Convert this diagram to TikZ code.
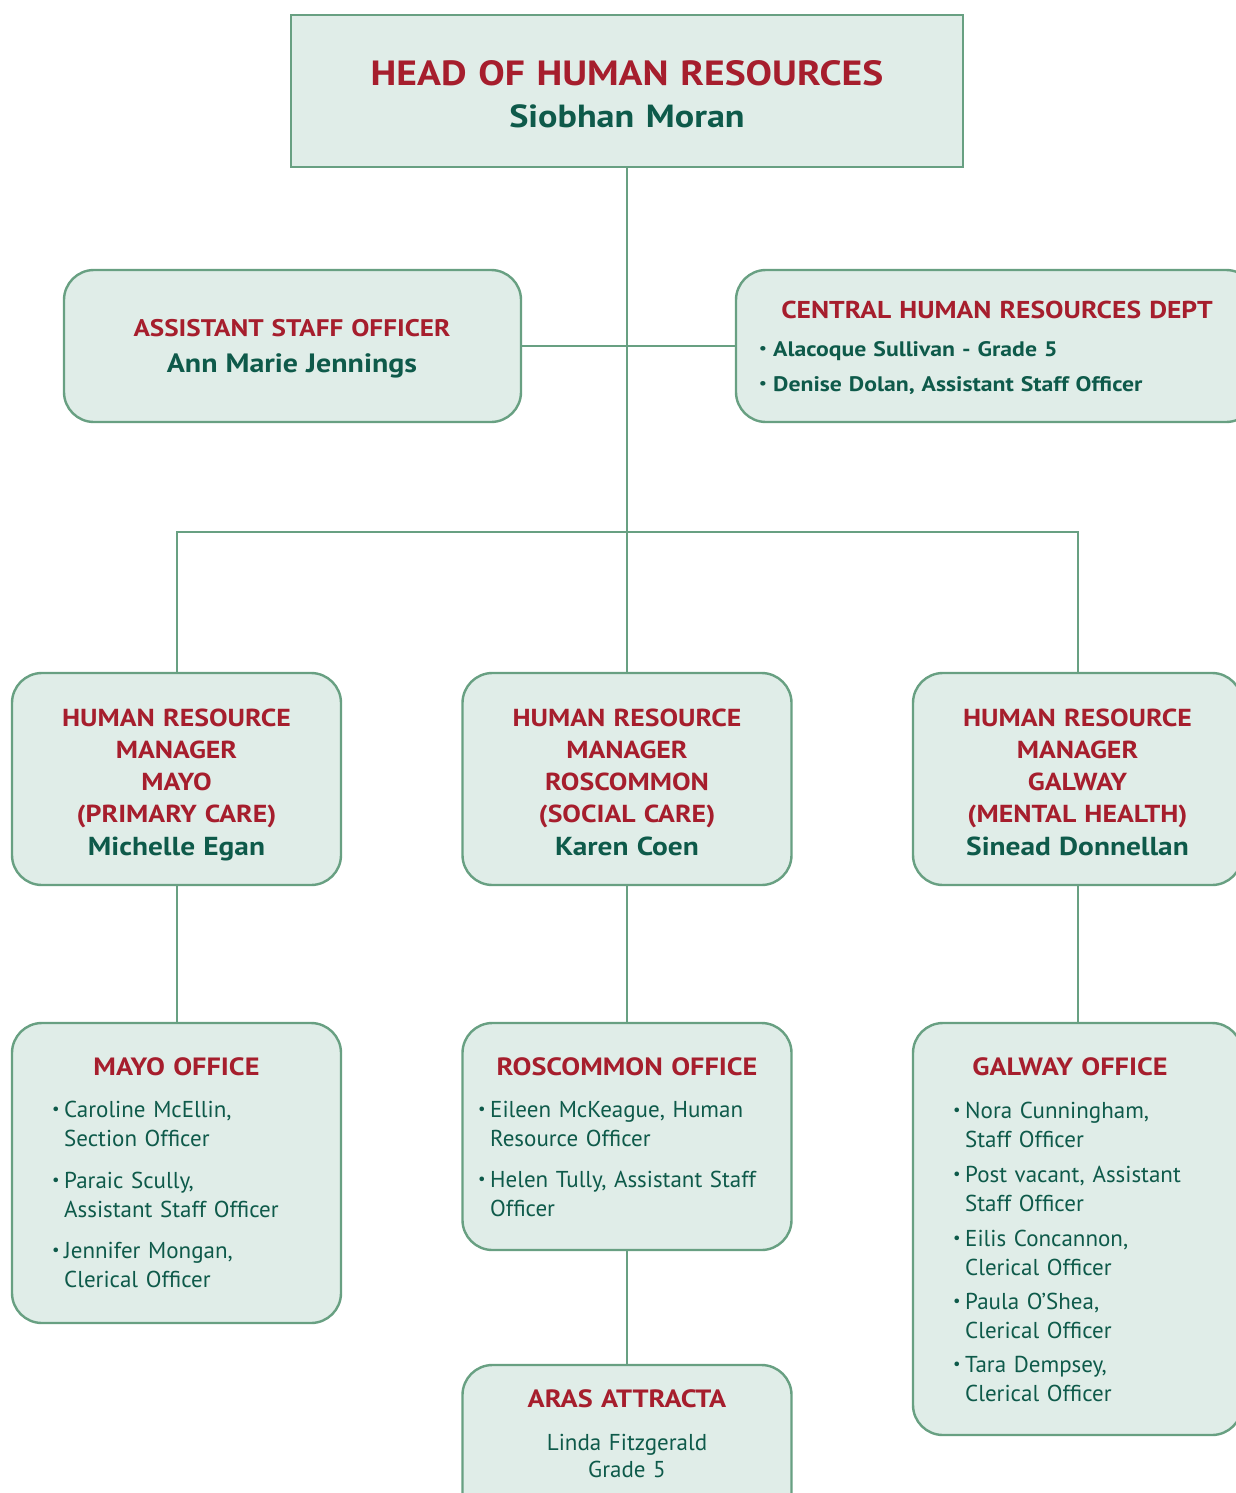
\documentclass[tikz,border=0pt]{standalone}
\usepackage{graphicx}
\usepackage{fontspec}
\setmainfont{PT Sans}[BoldFeatures={FakeStretch=1.13}]
\definecolor{boxfill}{RGB}{224,237,232}
\definecolor{boxline}{RGB}{104,160,130}
\definecolor{titlered}{RGB}{166,30,45}
\definecolor{namegreen}{RGB}{14,90,74}

% bullet item helpers: first line with a small bullet, continuation line indented
\newcommand{\smallbullet}{\raisebox{0.1em}{\scalebox{0.72}{\textbullet}}}
\newcommand{\bfirst}[1]{\makebox[12pt][l]{\smallbullet}#1}
\newcommand{\bnext}[1]{\hspace*{12pt}#1}

\tikzset{
  orgbox/.style={draw=boxline, fill=boxfill, line width=2.4pt, inner sep=0pt,
    outer sep=0pt, anchor=north west, rounded corners=30pt},
  headbox/.style={orgbox, sharp corners},
  link/.style={draw=boxline, line width=2pt},
  ctext/.style={inner sep=0pt, anchor=base, align=center, text width=#1},
  ltext/.style={inner sep=0pt, anchor=base west, align=left, text width=#1},
  redtitle/.style={font=\fontsize{#1}{#1}\selectfont\bfseries, text=titlered},
}

\begin{document}
\begin{tikzpicture}[x=1pt, y=-1pt]
\useasboundingbox (0,0) rectangle (1236,1493);
\clip (0,0) rectangle (1236,1493);
\fill[white] (0,0) rectangle (1236,1493);

% ---- boxes ----
\node[headbox, minimum width=672pt, minimum height=152pt] (head) at (291,15) {};
\node[orgbox, minimum width=457pt, minimum height=152pt] (aso) at (64,270) {};
\node[orgbox, minimum width=520pt, minimum height=152pt] (chr) at (736,270) {};
\node[orgbox, minimum width=329pt, minimum height=212pt] (mmayo) at (12,673) {};
\node[orgbox, minimum width=329pt, minimum height=212pt] (mros) at (462.5,673) {};
\node[orgbox, minimum width=329pt, minimum height=212pt] (mgal) at (913,673) {};
\node[orgbox, minimum width=329pt, minimum height=300pt] (omayo) at (12,1023) {};
\node[orgbox, minimum width=329pt, minimum height=227pt] (oros) at (462.5,1023) {};
\node[orgbox, minimum width=329pt, minimum height=412pt] (ogal) at (913,1023) {};
\node[orgbox, minimum width=329pt, minimum height=170pt] (aras) at (462.5,1365) {};

% ---- connectors ----
\coordinate (bus) at (627,532);
\draw[link] (head.south) -- (bus);
\draw[link] (aso.east) -- (chr.west);
\draw[link] (mmayo.north) |- (bus) -| (mgal.north);
\draw[link] (bus) -- (mros.north);
\draw[link] (mmayo.south) -- (omayo.north);
\draw[link] (mros.south) -- (oros.north);
\draw[link] (mgal.south) -- (ogal.north);
\draw[link] (oros.south) -- (aras.north);

% ---- head ----
\node[ctext=660pt, font=\fontsize{35}{42}\selectfont\bfseries] (headT) at (627,86)
  {\textcolor{titlered}{HEAD OF HUMAN RESOURCES}\\
   \textcolor{namegreen}{\fontsize{32}{42}\selectfont Siobhan Moran}};

% ---- assistant staff officer ----
\node[ctext=440pt, font=\fontsize{24}{36}\selectfont\bfseries] (asoT) at (292,336)
  {\textcolor{titlered}{ASSISTANT STAFF OFFICER}\\
   \textcolor{namegreen}{\fontsize{26.5}{36}\selectfont Ann Marie Jennings}};

% ---- central HR ----
\node[ctext=500pt, redtitle=24.4] (chrT) at (997,318) {CENTRAL HUMAN RESOURCES DEPT};
\node[ltext=470pt, font=\fontsize{21}{35}\selectfont\bfseries, text=namegreen] (chrL) at (759,356)
  {\makebox[14pt][l]{\smallbullet}Alacoque Sullivan - Grade 5\\
   \makebox[14pt][l]{\smallbullet}Denise Dolan, Assistant Staff Officer};

% ---- managers ----
\node[ctext=320pt, font=\fontsize{24.6}{32.3}\selectfont\bfseries, text=titlered] (mmayoT) at (176.5,726)
  {HUMAN RESOURCE\\MANAGER\\MAYO\\(PRIMARY CARE)\\
   \textcolor{namegreen}{\fontsize{26}{32.3}\selectfont Michelle Egan}};
\node[ctext=320pt, font=\fontsize{24.6}{32.3}\selectfont\bfseries, text=titlered] (mrosT) at (627,726)
  {HUMAN RESOURCE\\MANAGER\\ROSCOMMON\\(SOCIAL CARE)\\
   \textcolor{namegreen}{\fontsize{26}{32.3}\selectfont Karen Coen}};
\node[ctext=320pt, font=\fontsize{24.6}{32.3}\selectfont\bfseries, text=titlered] (mgalT) at (1077.5,726)
  {HUMAN RESOURCE\\MANAGER\\GALWAY\\(MENTAL HEALTH)\\
   \textcolor{namegreen}{\fontsize{26}{32.3}\selectfont Sinead Donnellan}};

% ---- offices ----
\node[ctext=320pt, redtitle=25] (omayoT) at (176.5,1075) {MAYO OFFICE};
\node[ltext=280pt, font=\fontsize{23}{29}\selectfont, text=namegreen] (omayoL) at (52,1117)
  {\bfirst{Caroline McEllin,}\\\bnext{Section Officer}\\[13pt]
   \bfirst{Paraic Scully,}\\\bnext{Assistant Staff Officer}\\[12pt]
   \bfirst{Jennifer Mongan,}\\\bnext{Clerical Officer}};

\node[ctext=320pt, redtitle=25] (orosT) at (627,1075) {ROSCOMMON OFFICE};
\node[ltext=300pt, font=\fontsize{23}{29}\selectfont, text=namegreen] (orosL) at (478,1117)
  {\bfirst{Eileen McKeague, Human}\\\bnext{Resource Officer}\\[12pt]
   \bfirst{Helen Tully, Assistant Staff}\\\bnext{Officer}};

\node[ctext=320pt, redtitle=25] (ogalT) at (1070,1075) {GALWAY OFFICE};
\node[ltext=270pt, font=\fontsize{23}{29}\selectfont, text=namegreen] (ogalL) at (953,1118)
  {\bfirst{Nora Cunningham,}\\\bnext{Staff Officer}\\[6pt]
   \bfirst{Post vacant, Assistant}\\\bnext{Staff Officer}\\[6pt]
   \bfirst{Eilis Concannon,}\\\bnext{Clerical Officer}\\[5pt]
   \bfirst{Paula O’Shea,}\\\bnext{Clerical Officer}\\[5pt]
   \bfirst{Tara Dempsey,}\\\bnext{Clerical Officer}};

% ---- aras attracta ----
\node[ctext=320pt, redtitle=25] (arasT) at (627,1407) {ARAS ATTRACTA};
\node[ctext=320pt, font=\fontsize{23}{27.5}\selectfont, text=namegreen] (arasL) at (627,1450)
  {Linda Fitzgerald\\Grade 5};
\end{tikzpicture}
\end{document}
